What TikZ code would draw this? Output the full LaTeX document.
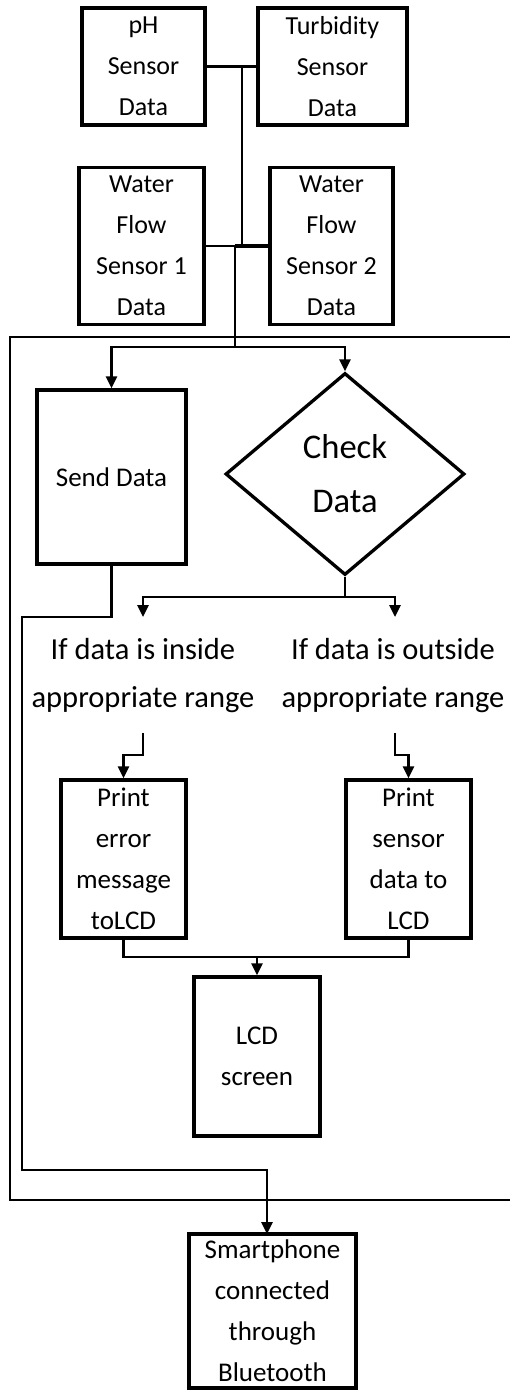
\documentclass[tikz,border=0pt]{standalone}
\usepackage{fontspec}
\setmainfont{Carlito}
\usetikzlibrary{shapes.geometric,arrows.meta}
\tikzset{
  box/.style={draw,line width=3.3pt,inner sep=0pt,align=center,
    font=\fontsize{27}{41}\selectfont},
  sensor/.style={box,font=\fontsize{26}{41}\selectfont},
  decision/.style={draw,diamond,line width=3.3pt,inner sep=0pt,align=center,
    font=\fontsize{34.6}{54}\selectfont},
  caption/.style={inner sep=0pt,align=center,font=\fontsize{30.5}{48}\selectfont},
  conn/.style={line width=2.8pt},
  arr/.style={conn,-{Triangle[length=12pt,width=11pt]}},
  frame/.style={line width=2pt}
}
\begin{document}
\begin{tikzpicture}[x=1pt,y=-1pt]
\useasboundingbox (0,0) rectangle (509,1390);

% sensor inputs
\node[sensor,minimum width=123pt,minimum height=117pt] (ph) at (143.5,66.5) {pH\\Sensor\\Data};
\node[sensor,minimum width=149pt,minimum height=117pt] (turb) at (332.5,66.5) {Turbidity\\Sensor\\Data};
\node[sensor,minimum width=125pt,minimum height=157pt] (wf1) at (141.5,246) {Water\\Flow\\Sensor 1\\Data};
\node[sensor,minimum width=123pt,minimum height=157pt] (wf2) at (331.5,246) {Water\\Flow\\Sensor 2\\Data};

% processing block
\draw[frame] (530,337) -- (10,337) -- (10,1200) -- (530,1200);

\node[box,minimum width=149pt,minimum height=174pt] (send) at (111.5,477) {Send Data};
\node[decision,minimum width=239pt,minimum height=202pt] (check) at (345,474) {Check\\Data};

\node[caption] (inside) at (143,676) {If data is inside\\appropriate range};
\node[caption] (outside) at (393,676) {If data is outside\\appropriate range};

\node[box,minimum width=125pt,minimum height=158pt] (perr) at (123.5,859) {Print\\error\\message\\toLCD};
\node[box,minimum width=125pt,minimum height=158pt] (psen) at (408.5,859) {Print\\sensor\\data to\\LCD};
\node[box,minimum width=126pt,minimum height=159pt] (lcd) at (257,1056.5) {LCD\\screen};

\node[box,minimum width=167pt,minimum height=154pt] (phone) at (272.5,1311) {Smartphone\\connected\\through\\Bluetooth};

% junction points
\coordinate (j1) at (242,66.5);
\coordinate (j2) at (242,246);
\coordinate (j3) at (235,246);
\coordinate (j4) at (235,347);
\coordinate (d1) at (345,597);
\coordinate (ai) at (143,617);
\coordinate (ao) at (395,617);
\coordinate (ii) at (143,733);
\coordinate (ik) at (143,755);
\coordinate (oi) at (395,733);
\coordinate (ok) at (395,755);
\coordinate (m1) at (257,957);
\coordinate (s1) at (22,617);
\coordinate (s2) at (22,1170);
\coordinate (sin) at (267,1234);

% sensor bus
\draw[conn] (ph.east) -- (turb.west);
\draw[conn] (j1) -- (j2);
\draw[conn] (wf1.east) -- (j2);
\draw[line width=4pt] (j3) -- (wf2.west);
\draw[conn] (j3) -- (j4);
\draw[arr] (j4) -| (send.north);
\draw[arr] (j4) -| (check.north);

% decision branches
\draw[conn] (check.south) -- (d1);
\draw[arr] (d1) -| (ai);
\draw[arr] (d1) -| (ao);
\draw[arr] (ii) -- (ik) -| (perr.north);
\draw[arr] (oi) -- (ok) -| (psen.north);

% display path
\draw[conn] (perr.south) |- (m1) -| (psen.south);
\draw[arr] (m1) -- (lcd.north);

% bluetooth path
\draw[arr] (send.south) |- (s1) -- (s2) -| (sin);
\end{tikzpicture}
\end{document}
